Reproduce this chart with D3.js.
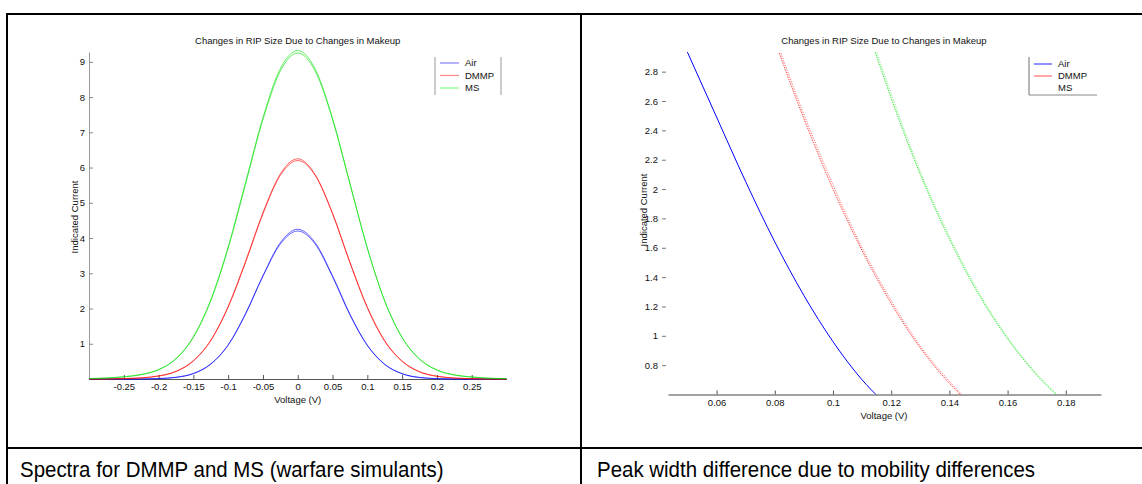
<!DOCTYPE html>
<html><head><meta charset="utf-8">
<script src="https://cdn.jsdelivr.net/npm/d3@7"></script>
<style>
body{margin:0;background:#fff;}
svg{display:block;font-family:"Liberation Sans",Arial,Helvetica,sans-serif;}
</style></head><body>
<svg id="c" width="1142" height="484"></svg>
<script>
// ---- Data ----
const chartTitle = "Changes in RIP Size Due to Changes in Makeup";
const seriesNames = ["Air", "DMMP", "MS"];
const captions = ["Spectra for DMMP and MS (warfare simulants)", "Peak width difference due to mobility differences"];

// Left chart: full spectra
const leftX = [-0.3,-0.275,-0.25,-0.225,-0.2,-0.175,-0.15,-0.125,-0.1,-0.075,-0.05,-0.025,0,0.025,0.05,0.075,0.1,0.125,0.15,0.175,0.2,0.225,0.25,0.275,0.3];
const leftAirA  = [0,0,0,0,0.011,0.045,0.15,0.42,0.96,1.84,2.93,3.87,4.25,3.87,2.93,1.84,0.96,0.42,0.15,0.045,0.011,0,0,0,0];
const leftAirB  = [0,0,0,0.002,0.014,0.05,0.16,0.43,0.97,1.86,2.92,3.83,4.2,3.83,2.9,1.82,0.95,0.41,0.15,0.04,0.01,0,0,0,0];
const leftDmmpA = [0,0,0.01,0.03,0.08,0.21,0.51,1.09,2.04,3.31,4.69,5.78,6.2,5.78,4.69,3.31,2.04,1.09,0.51,0.21,0.08,0.03,0.01,0,0];
const leftDmmpB = [0,0.003,0.012,0.035,0.09,0.22,0.52,1.1,2.06,3.34,4.72,5.82,6.25,5.8,4.7,3.3,2.02,1.07,0.5,0.2,0.075,0.025,0.008,0,0];
const leftMsA   = [0.01,0.025,0.06,0.12,0.26,0.57,1.18,2.22,3.71,5.53,7.36,8.74,9.25,8.74,7.36,5.53,3.71,2.22,1.18,0.57,0.26,0.12,0.06,0.025,0.01];
const leftMsB   = [0.012,0.03,0.065,0.13,0.27,0.58,1.2,2.25,3.75,5.58,7.42,8.81,9.32,8.8,7.4,5.56,3.72,2.21,1.17,0.56,0.25,0.11,0.055,0.02,0.008];
const leftXTicks = [-0.25,-0.2,-0.15,-0.1,-0.05,0,0.05,0.1,0.15,0.2,0.25];
const leftXTickLabels = ["-0.25","-0.2","-0.15","-0.1","-0.05","0","0.05","0.1","0.15","0.2","0.25"];
const leftYTicks = [1,2,3,4,5,6,7,8,9];

// Right chart: zoom on right flanks
const rightAirX  = [0.048,0.06,0.07,0.08,0.09,0.1,0.11,0.116];
const rightAirY  = [3.02,2.49,2.05,1.64,1.275,0.96,0.70,0.575];
const rightDmmpX = [0.078,0.09,0.10,0.11,0.12,0.13,0.14,0.146];
const rightDmmpA = [3.12,2.48,2.00,1.58,1.22,0.917,0.676,0.557];
const rightDmmpB = [3.15,2.51,2.03,1.60,1.24,0.93,0.69,0.565];
const rightMsX   = [0.112,0.12,0.13,0.14,0.15,0.16,0.17,0.18];
const rightMsA   = [3.08,2.62,2.10,1.66,1.285,0.98,0.733,0.54];
const rightMsB   = [3.11,2.65,2.12,1.68,1.30,0.99,0.742,0.548];
const rightXTicks = [0.06,0.08,0.1,0.12,0.14,0.16,0.18];
const rightXTickLabels = ["0.06","0.08","0.1","0.12","0.14","0.16","0.18"];
const rightYTicks = [0.8,1,1.2,1.4,1.6,1.8,2,2.2,2.4,2.6,2.8];
const rightYTickLabels = ["0.8","1","1.2","1.4","1.6","1.8","2","2.2","2.4","2.6","2.8"];

// ---- Drawing ----
const svg = d3.select("#c");
const colors = {Air:"#0000ff", DMMP:"#ff0000", MS:"#00e000"};
const FONT = 9.5;

// table frame
const frame = svg.append("g").attr("stroke","#000").attr("stroke-width",2);
frame.append("line").attr("x1",6).attr("x2",1142).attr("y1",14).attr("y2",14);
frame.append("line").attr("x1",7).attr("x2",7).attr("y1",13).attr("y2",484);
frame.append("line").attr("x1",581).attr("x2",581).attr("y1",13).attr("y2",484);
frame.append("line").attr("x1",6).attr("x2",1142).attr("y1",448).attr("y2",448);
svg.append("text").attr("transform","translate(20,477) scale(0.93,1)").attr("font-size",22).attr("fill","#000").text(captions[0]);
svg.append("text").attr("transform","translate(597,477) scale(0.93,1)").attr("font-size",22).attr("fill","#000").text(captions[1]);

const defs = svg.append("defs");

// ===== Left chart =====
const L = {x0:89, x1:506.5, y0:379, y1:52};
const xL = d3.scaleLinear().domain([-0.3,0.3]).range([L.x0,L.x1]);
const yL = d3.scaleLinear().domain([0,9.28]).range([L.y0,L.y1]);
defs.append("clipPath").attr("id","clipL").append("rect")
  .attr("x",L.x0).attr("y",L.y1-3).attr("width",L.x1-L.x0).attr("height",L.y0-L.y1+4);

svg.append("text").attr("x",(L.x0+L.x1)/2).attr("y",44).attr("text-anchor","middle")
  .attr("font-size",FONT).attr("fill","#111").text(chartTitle);

const gLx = svg.append("g").attr("transform",`translate(0,${L.y0})`)
  .call(d3.axisBottom(xL).tickValues(leftXTicks).tickFormat((d,i)=>leftXTickLabels[i]).tickSizeInner(-4).tickSizeOuter(0).tickPadding(4.5));
gLx.select(".domain").attr("stroke","#555");
gLx.selectAll(".tick line").attr("stroke","#555");
gLx.selectAll("text").attr("font-size",FONT).attr("fill","#111").attr("font-family",null);

const gLy = svg.append("g").attr("transform",`translate(${L.x0},0)`)
  .call(d3.axisLeft(yL).tickValues(leftYTicks).tickFormat(d3.format("d")).tickSizeInner(-4).tickSizeOuter(0).tickPadding(4));
gLy.select(".domain").attr("stroke","#999");
gLy.selectAll(".tick line").attr("stroke","#888");
gLy.selectAll("text").attr("font-size",FONT).attr("fill","#111").attr("font-family",null);

svg.append("text").attr("x",(L.x0+L.x1)/2).attr("y",403).attr("text-anchor","middle")
  .attr("font-size",FONT).attr("fill","#111").text("Voltage (V)");
svg.append("text").attr("transform","translate(78,217) rotate(-90)").attr("text-anchor","middle")
  .attr("font-size",FONT).attr("fill","#111").text("Indicated Current");

const lineL = d3.line().x((d,i)=>xL(leftX[i])).y(d=>yL(d)).curve(d3.curveMonotoneX);
const leftSeries = [
  [leftAirA,"Air"],[leftAirB,"Air"],[leftDmmpA,"DMMP"],[leftDmmpB,"DMMP"],[leftMsA,"MS"],[leftMsB,"MS"]];
const gL = svg.append("g").attr("clip-path","url(#clipL)");
leftSeries.forEach(([vals,name])=>{
  gL.append("path").attr("d",lineL(vals)).attr("fill","none")
    .attr("stroke",colors[name]).attr("stroke-width",0.75).attr("stroke-opacity",0.8);
});

// left legend
const lgL = svg.append("g");
lgL.append("line").attr("x1",435).attr("x2",435).attr("y1",57).attr("y2",95).attr("stroke","#aaa").attr("stroke-width",1.2);
lgL.append("line").attr("x1",501).attr("x2",501).attr("y1",57).attr("y2",95).attr("stroke","#aaa").attr("stroke-width",1.2);
const legLColors = ["#8080ff","#ff8888","#80ff80"];
seriesNames.forEach((n,i)=>{
  const yy = 63 + i*12.5;
  lgL.append("line").attr("x1",440).attr("x2",459).attr("y1",yy).attr("y2",yy).attr("stroke",legLColors[i]).attr("stroke-width",1.2);
  lgL.append("text").attr("x",465).attr("y",yy).attr("dy","0.35em").attr("font-size",FONT).attr("fill","#111").text(n);
});

// ===== Right chart =====
const R = {x0:668, x1:1101, y0:394.5, y1:52};
const xR = d3.scaleLinear().domain([0.0433,0.1921]).range([R.x0,R.x1]);
const yR = d3.scaleLinear().domain([0.6,2.934]).range([R.y0,R.y1]);
defs.append("clipPath").attr("id","clipR").append("rect")
  .attr("x",R.x0).attr("y",R.y1).attr("width",R.x1-R.x0).attr("height",R.y0-R.y1);

svg.append("text").attr("x",884).attr("y",44).attr("text-anchor","middle")
  .attr("font-size",FONT).attr("fill","#111").text(chartTitle);

const gRx = svg.append("g").attr("transform",`translate(0,${R.y0})`)
  .call(d3.axisBottom(xR).tickValues(rightXTicks).tickFormat((d,i)=>rightXTickLabels[i]).tickSizeInner(-4).tickSizeOuter(0).tickPadding(5));
gRx.select(".domain").attr("stroke","#444");
gRx.selectAll(".tick line").attr("stroke","#555");
gRx.selectAll("text").attr("font-size",FONT).attr("fill","#111").attr("font-family",null);

const gRy = svg.append("g").attr("transform",`translate(666,0)`)
  .call(d3.axisLeft(yR).tickValues(rightYTicks).tickFormat((d,i)=>rightYTickLabels[i]).tickSizeInner(4).tickSizeOuter(0).tickPadding(4));
gRy.select(".domain").remove();
gRy.selectAll(".tick line").attr("stroke","#777");
gRy.selectAll("text").attr("font-size",FONT).attr("fill","#111").attr("font-family",null);

svg.append("text").attr("x",884).attr("y",419).attr("text-anchor","middle")
  .attr("font-size",FONT).attr("fill","#111").text("Voltage (V)");
svg.append("text").attr("transform","translate(647,210) rotate(-90)").attr("text-anchor","middle")
  .attr("font-size",FONT).attr("fill","#111").text("Indicated Current");

const gR = svg.append("g").attr("clip-path","url(#clipR)");
function rline(xs){ return d3.line().x((d,i)=>xR(xs[i])).y(d=>yR(d)).curve(d3.curveMonotoneX); }
gR.append("path").attr("d",rline(rightAirX)(rightAirY)).attr("fill","none").attr("stroke",colors.Air).attr("stroke-width",1);
gR.append("path").attr("d",rline(rightDmmpX)(rightDmmpA)).attr("fill","none").attr("stroke",colors.DMMP).attr("stroke-width",0.9).attr("stroke-dasharray","1.5,1").attr("stroke-opacity",0.8);
gR.append("path").attr("d",rline(rightDmmpX)(rightDmmpB)).attr("fill","none").attr("stroke",colors.DMMP).attr("stroke-width",0.9).attr("stroke-dasharray","1.2,1.3").attr("stroke-opacity",0.6);
gR.append("path").attr("d",rline(rightMsX)(rightMsA)).attr("fill","none").attr("stroke",colors.MS).attr("stroke-width",0.9).attr("stroke-dasharray","1.5,1").attr("stroke-opacity",0.85);
gR.append("path").attr("d",rline(rightMsX)(rightMsB)).attr("fill","none").attr("stroke",colors.MS).attr("stroke-width",0.9).attr("stroke-dasharray","1.2,1.3").attr("stroke-opacity",0.5);

// right legend
const lgR = svg.append("g");
lgR.append("line").attr("x1",1029).attr("x2",1029).attr("y1",57).attr("y2",95).attr("stroke","#888").attr("stroke-width",1.2);
lgR.append("line").attr("x1",1029).attr("x2",1097).attr("y1",95).attr("y2",95).attr("stroke","#888").attr("stroke-width",1.2);
const legRColors = ["#2020ff","#ff5050",null];
seriesNames.forEach((n,i)=>{
  const yy = 64 + i*12;
  if (legRColors[i]) lgR.append("line").attr("x1",1034).attr("x2",1052).attr("y1",yy).attr("y2",yy).attr("stroke",legRColors[i]).attr("stroke-width",1);
  lgR.append("text").attr("x",1058).attr("y",yy).attr("dy","0.35em").attr("font-size",FONT).attr("fill","#111").text(n);
});
</script></body></html>
